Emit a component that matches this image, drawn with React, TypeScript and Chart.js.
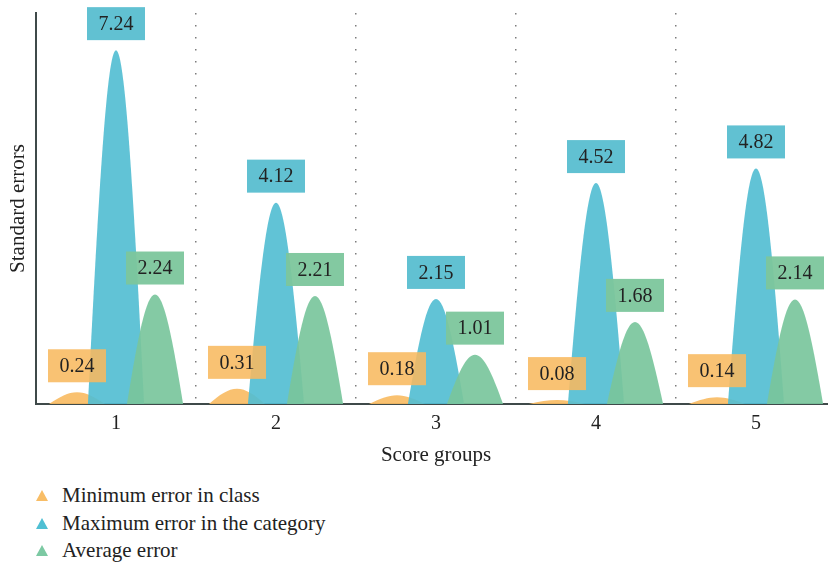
import React, { useEffect, useRef } from "react";
import { Chart, registerables } from "chart.js";

Chart.register(...registerables);

const categories = ["1", "2", "3", "4", "5"];
const minError = [0.24, 0.31, 0.18, 0.08, 0.14];
const maxError = [7.24, 4.12, 2.15, 4.52, 4.82];
const avgError = [2.24, 2.21, 1.01, 1.68, 2.14];
const seriesNames = [
  "Minimum error in class",
  "Maximum error in the category",
  "Average error",
];
const yMax = 8;

const FONT = "'Liberation Serif', 'Times New Roman', serif";
const peakColors = [
  "rgba(248,188,100,0.92)",
  "rgba(84,190,210,0.92)",
  "rgba(122,198,156,0.92)",
];
const boxColors = [
  "rgba(248,186,96,0.88)",
  "rgba(88,190,208,0.95)",
  "rgba(124,198,156,0.95)",
];
const legendColors = ["#f8bd66", "#4fbfd3", "#7cc9a3"];

const peakPlugin = {
  id: "peaks",
  afterDatasetsDraw(chart: any) {
    const ctx = chart.ctx;
    const area = chart.chartArea;
    ctx.save();
    ctx.beginPath();
    ctx.rect(area.left, 0, area.right - area.left, area.bottom);
    ctx.clip();
    chart.data.datasets.forEach((ds: any, di: number) => {
      const meta = chart.getDatasetMeta(di);
      meta.data.forEach((el: any) => {
        const { x, y, base, width } = el.getProps(["x", "y", "base", "width"], true);
        const hw = width * 0.72;
        const h = base - y;
        ctx.beginPath();
        ctx.moveTo(x - hw, base);
        ctx.bezierCurveTo(x - hw * 0.62, base - h * 0.6, x - hw * 0.32, y, x, y);
        ctx.bezierCurveTo(x + hw * 0.32, y, x + hw * 0.62, base - h * 0.6, x + hw, base);
        ctx.closePath();
        ctx.fillStyle = peakColors[di];
        ctx.fill();
      });
    });
    ctx.restore();

    ctx.save();
    chart.data.datasets.forEach((ds: any, di: number) => {
      const meta = chart.getDatasetMeta(di);
      meta.data.forEach((el: any, i: number) => {
        const { x, y } = el.getProps(["x", "y"], true);
        const bw = 58;
        const bh = 33;
        const bottom = y - 10;
        ctx.fillStyle = boxColors[di];
        ctx.fillRect(x - bw / 2, bottom - bh, bw, bh);
        ctx.fillStyle = "#222";
        ctx.font = `20px ${FONT}`;
        ctx.textAlign = "center";
        ctx.textBaseline = "middle";
        ctx.fillText(ds.data[i].toFixed(2), x, bottom - bh / 2 + 1);
      });
    });
    ctx.restore();
  },
};

function Triangle({ color }: { color: string }) {
  return (
    <svg width="12" height="11" viewBox="0 0 12 11" style={{ display: "block" }}>
      <polygon points="6,0 12,11 0,11" fill={color} />
    </svg>
  );
}

export default function App() {
  const canvasRef = useRef<HTMLCanvasElement | null>(null);

  useEffect(() => {
    if (!canvasRef.current) return;
    const chart = new Chart(canvasRef.current, {
      type: "bar",
      data: {
        labels: categories,
        datasets: [
          { label: seriesNames[0], data: minError, backgroundColor: "rgba(0,0,0,0)" },
          { label: seriesNames[1], data: maxError, backgroundColor: "rgba(0,0,0,0)" },
          { label: seriesNames[2], data: avgError, backgroundColor: "rgba(0,0,0,0)" },
        ],
      },
      options: {
        animation: false,
        responsive: true,
        maintainAspectRatio: false,
        datasets: {
          bar: { categoryPercentage: 0.73125, barPercentage: 1 },
        },
        layout: { padding: { top: 13, right: 4, left: 0, bottom: 0 } },
        plugins: {
          legend: { display: false },
          tooltip: { enabled: false },
        },
        scales: {
          x: {
            offset: true,
            grid: {
              offset: true,
              display: true,
              drawTicks: false,
              color: "rgba(110,110,110,0.9)",
              lineWidth: 1.5,
            },
            border: { display: true, color: "#3f4a4a", width: 2, dash: [1.5, 10.5] },
            ticks: {
              padding: 8,
              color: "#222",
              font: { family: FONT, size: 20 },
            },
            title: {
              display: true,
              text: "Score groups",
              color: "#222",
              font: { family: FONT, size: 21 },
              padding: { top: 0, bottom: 7 },
            },
            afterFit: (scale: any) => {
              scale.height = 71;
            },
          },
          y: {
            min: 0,
            max: yMax,
            grid: { display: false },
            border: { display: true, color: "#3f4a4a", width: 2 },
            ticks: { display: false },
            title: {
              display: true,
              text: "Standard errors",
              color: "#222",
              font: { family: FONT, size: 21 },
              padding: { top: 6, bottom: 0 },
            },
            afterFit: (scale: any) => {
              scale.width = 36;
            },
          },
        },
      },
      plugins: [peakPlugin],
    });
    return () => chart.destroy();
  }, []);

  const rowCenters = [495, 523, 550];

  return (
    <div
      style={{
        position: "fixed",
        left: 0,
        top: 0,
        width: 828,
        height: 564,
        overflow: "hidden",
        background: "#fff",
      }}
    >
      <div style={{ position: "absolute", left: 0, top: 0, width: 840, height: 475 }}>
        <canvas ref={canvasRef} />
      </div>
      {seriesNames.map((name, i) => (
        <div
          key={name}
          style={{
            position: "absolute",
            left: 36,
            top: rowCenters[i] - 14,
            height: 28,
            display: "flex",
            alignItems: "center",
            fontFamily: FONT,
            fontSize: 21,
            color: "#222",
            whiteSpace: "nowrap",
          }}
        >
          <Triangle color={legendColors[i]} />
          <span style={{ marginLeft: 14, lineHeight: "28px" }}>{name}</span>
        </div>
      ))}
    </div>
  );
}
